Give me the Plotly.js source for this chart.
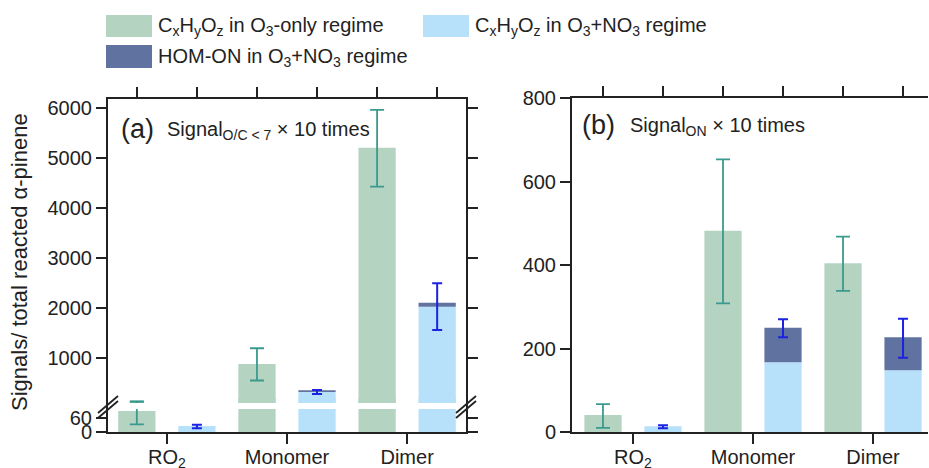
<!DOCTYPE html>
<html>
<head>
<meta charset="utf-8">
<script src="https://cdn.plot.ly/plotly-3.0.1.min.js"></script>
<style>html,body{margin:0;padding:0;background:#fff;}#chart{width:929px;height:468px;}</style>
</head>
<body>
<div id="chart"></div>
<script>
// ---------- data ----------
const categories = ['RO<sub>2</sub>', 'Monomer', 'Dimer'];

// panel (a): Signal O/C<7 x 10 times
const a_o3only      = [90, 880, 5206];
const a_o3only_errP = [40, 315, 755];
const a_o3only_errM = [57, 330, 780];
const a_cxhyoz      = [26, 320, 2027];
const a_cxhyoz_errP = [5, 40, 466];
const a_cxhyoz_errM = [10, 40, 467];
const a_homon       = [0, 34, 80];

// panel (b): Signal ON x 10 times
const b_o3only      = [41, 482, 404];
const b_o3only_errP = [26, 171, 64];
const b_o3only_errM = [31, 174, 66];
const b_cxhyoz      = [14, 167, 148];
const b_homon       = [0, 83, 79];
const b_total_errP  = [2, 20, 44];
const b_total_errM  = [5, 23, 49];

const a_lowTicks  = [0, 60];
const a_highTicks = [1000, 2000, 3000, 4000, 5000, 6000];
const b_ticks     = [0, 200, 400, 600, 800];

const legendNames = [
  'C<sub>x</sub>H<sub>y</sub>O<sub>z</sub> in O<sub>3</sub>-only regime',
  'C<sub>x</sub>H<sub>y</sub>O<sub>z</sub> in O<sub>3</sub>+NO<sub>3</sub> regime',
  'HOM-ON in O<sub>3</sub>+NO<sub>3</sub> regime'
];

// ---------- styling ----------
const W = 929, H = 468;
const fx = p => p / W;
const fy = p => 1 - p / H;
const FONT = 'Liberation Sans, Arial, sans-serif';
const INK = '#222';
const C_GREEN = '#b4d3c1', C_LBLUE = '#b7e0fb', C_DBLUE = '#60729f';
const E_GREEN = '#3a9a8e', E_BLUE = '#1c22e2';

function errG(p, m) { return {type:'data', symmetric:false, array:p, arrayminus:m, color:E_GREEN, thickness:1.8, width:7}; }
function errB(p, m) { return {type:'data', symmetric:false, array:p, arrayminus:m, color:E_BLUE, thickness:2, width:5}; }

function barTrace(x, y, color, group, xa, ya, extra) {
  return Object.assign({
    type:'bar', x:x, y:y, xaxis:xa, yaxis:ya, offsetgroup:group,
    marker:{color:color, line:{width:0}}, showlegend:false, hoverinfo:'skip'
  }, extra || {});
}

const traces = [];
// panel (a): same data on the lower (y) and upper (y2) segments of the broken axis
['y', 'y2'].forEach(ya => {
  traces.push(barTrace(categories, a_o3only, C_GREEN, 'g', 'x', ya, {error_y: errG(a_o3only_errP, a_o3only_errM)}));
  traces.push(barTrace(categories, a_cxhyoz, C_LBLUE, 'b', 'x', ya));
  traces.push(barTrace(categories, a_homon, C_DBLUE, 'b', 'x', ya, {base: a_cxhyoz}));
  traces.push(barTrace(categories, a_cxhyoz, 'rgba(0,0,0,0)', 'b', 'x', ya, {error_y: errB(a_cxhyoz_errP, a_cxhyoz_errM)}));
});
// panel (b)
traces.push(barTrace(categories, b_o3only, C_GREEN, 'g', 'x2', 'y3', {error_y: errG(b_o3only_errP, b_o3only_errM)}));
traces.push(barTrace(categories, b_cxhyoz, C_LBLUE, 'b', 'x2', 'y3'));
traces.push(barTrace(categories, b_homon, C_DBLUE, 'b', 'x2', 'y3', {base: b_cxhyoz, error_y: errB(b_total_errP, b_total_errM)}));
// empty traces so the top tick axes get their subplots
traces.push({type:'scatter', x:[], y:[], xaxis:'x3', yaxis:'y2', showlegend:false, hoverinfo:'skip'});
traces.push({type:'scatter', x:[], y:[], xaxis:'x4', yaxis:'y3', showlegend:false, hoverinfo:'skip'});

const barCenters = [];
categories.forEach((c, i) => { barCenters.push(i - 0.25, i + 0.25); });

const ax = {
  showgrid:false, zeroline:false, showline:true, linecolor:INK, linewidth:2,
  ticks:'outside', ticklen:10, tickwidth:2, tickcolor:INK,
  tickfont:{family:FONT, size:20, color:INK}, fixedrange:true
};
const aRange = [-0.49, 2.49];
const bRange = [-0.508, 2.458];

const layout = {
  width:W, height:H, margin:{l:0, r:0, t:0, b:0},
  paper_bgcolor:'#fff', plot_bgcolor:'rgba(0,0,0,0)',
  barmode:'group', bargap:0, bargroupgap:0.38, showlegend:false,
  font:{family:FONT, size:20, color:INK},
  xaxis: Object.assign({}, ax, {type:'category', categoryorder:'array', categoryarray:categories, range:aRange,
          domain:[fx(108), fx(466)], anchor:'y', ticklabelstandoff:-4}),
  yaxis: Object.assign({}, ax, {range:[0, 146], tickvals:a_lowTicks, domain:[fy(432), fy(398)], anchor:'x', mirror:'ticks'}),
  yaxis2: Object.assign({}, ax, {range:[100, 6180], tickvals:a_highTicks, domain:[fy(403), fy(99)], anchor:'x', mirror:'ticks'}),
  xaxis3: Object.assign({}, ax, {overlaying:'x', side:'top', anchor:'y2', range:aRange, tickvals:barCenters, showticklabels:false}),
  xaxis2: Object.assign({}, ax, {type:'category', categoryorder:'array', categoryarray:categories, range:bRange,
          domain:[fx(572), fx(928)], anchor:'y3', ticklabelstandoff:-4}),
  yaxis3: Object.assign({}, ax, {range:[0, 800], tickvals:b_ticks, domain:[fy(432), fy(98)], anchor:'x2'}),
  xaxis4: Object.assign({}, ax, {overlaying:'x2', side:'top', anchor:'y3', range:bRange, tickvals:barCenters, showticklabels:false}),
  shapes: [
    // white gap of the broken axis
    {type:'rect', xref:'paper', yref:'paper', x0:fx(109), x1:fx(465), y0:fy(409), y1:fy(403), fillcolor:'#fff', line:{width:0}, layer:'above'},
    // break marks
    {type:'line', xref:'paper', yref:'paper', x0:fx(98), y0:fy(413), x1:fx(118), y1:fy(396), line:{color:INK, width:1.8}, layer:'above'},
    {type:'line', xref:'paper', yref:'paper', x0:fx(98), y0:fy(418), x1:fx(118), y1:fy(401), line:{color:INK, width:1.8}, layer:'above'},
    {type:'line', xref:'paper', yref:'paper', x0:fx(456), y0:fy(413), x1:fx(476), y1:fy(396), line:{color:INK, width:1.8}, layer:'above'},
    {type:'line', xref:'paper', yref:'paper', x0:fx(456), y0:fy(418), x1:fx(476), y1:fy(401), line:{color:INK, width:1.8}, layer:'above'},
    // legend swatches
    {type:'rect', xref:'paper', yref:'paper', x0:fx(106), x1:fx(152), y0:fy(37), y1:fy(15), fillcolor:C_GREEN, line:{width:0}},
    {type:'rect', xref:'paper', yref:'paper', x0:fx(423), x1:fx(469), y0:fy(37), y1:fy(15), fillcolor:C_LBLUE, line:{width:0}},
    {type:'rect', xref:'paper', yref:'paper', x0:fx(106), x1:fx(152), y0:fy(68), y1:fy(45), fillcolor:C_DBLUE, line:{width:0}}
  ],
  annotations: [
    {text:legendNames[0], xref:'paper', yref:'paper', x:fx(156), y:fy(26), xanchor:'left', yanchor:'middle', showarrow:false, font:{size:20}},
    {text:legendNames[1], xref:'paper', yref:'paper', x:fx(473), y:fy(26), xanchor:'left', yanchor:'middle', showarrow:false, font:{size:20}},
    {text:legendNames[2], xref:'paper', yref:'paper', x:fx(156), y:fy(57), xanchor:'left', yanchor:'middle', showarrow:false, font:{size:20}},
    {text:'Signals/ total reacted α-pinene', xref:'paper', yref:'paper', x:fx(19), y:fy(262), xanchor:'center', yanchor:'middle', textangle:-90, showarrow:false, font:{size:22}},
    {text:'(a)', xref:'paper', yref:'paper', x:fx(119), y:fy(129), xanchor:'left', yanchor:'middle', showarrow:false, font:{size:27}},
    {text:'Signal<sub>O/C &lt; 7</sub> × 10 times', xref:'paper', yref:'paper', x:fx(165), y:fy(130), xanchor:'left', yanchor:'middle', showarrow:false, font:{size:20}},
    {text:'(b)', xref:'paper', yref:'paper', x:fx(580), y:fy(125), xanchor:'left', yanchor:'middle', showarrow:false, font:{size:27}},
    {text:'Signal<sub>ON</sub> × 10 times', xref:'paper', yref:'paper', x:fx(628), y:fy(127), xanchor:'left', yanchor:'middle', showarrow:false, font:{size:20}}
  ]
};

Plotly.newPlot('chart', traces, layout, {staticPlot:true, displayModeBar:false});
</script>
</body>
</html>
